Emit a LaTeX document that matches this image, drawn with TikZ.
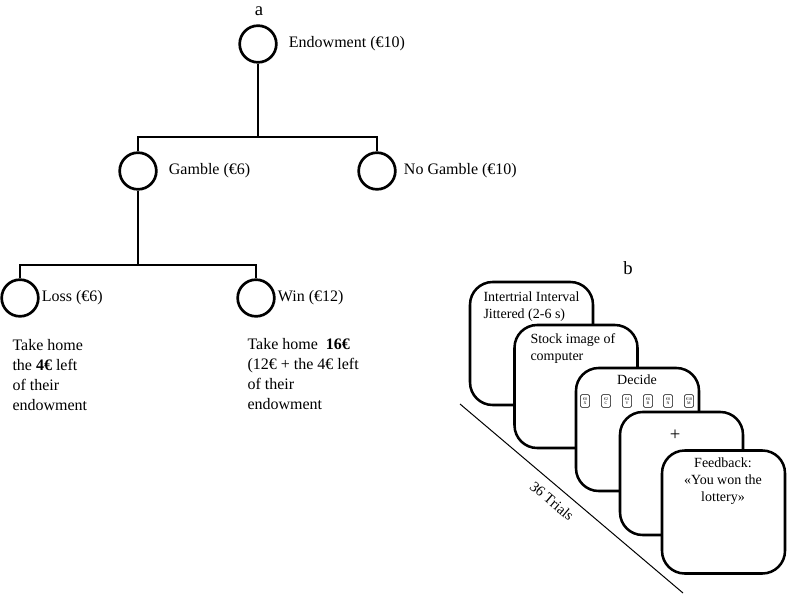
\documentclass[tikz,border=0pt]{standalone}
\usepackage{fontspec}
\setmainfont{Liberation Serif}

\tikzset{every picture/.style={line width=0.75pt}}
\tikzset{
  choice/.style={draw, circle, line width=2pt, minimum size=27.5pt, inner sep=0pt},
  branch/.style={line width=2pt},
  card/.style={draw, fill=white, line width=1.9pt, rounded corners=17pt, minimum width=92.25pt, minimum height=92.25pt},
  key/.style={draw, fill=white, line width=0.4pt, rounded corners=1.2pt, minimum width=7pt, minimum height=9.5pt, inner sep=0.3pt, align=center, font=\fontsize{3}{3.4}\selectfont},
  cardtext/.style={inner sep=0pt, align=left, font=\fontsize{10.5}{12.8}\selectfont}
}

\begin{document}
\begin{tikzpicture}[x=0.75pt,y=0.75pt,yscale=-1,xscale=1]
\path[use as bounding box, fill=white] (0,0) rectangle (787,595);

% Panel a
\draw (259,11) node [inner sep=0pt, font=\fontsize{14}{16}\selectfont] (lbla) {a};
%Shape: Circle
\node [choice] (endow) at (258,44) {};
\node [choice] (gamble) at (138,171) {};
\node [choice] (nogamble) at (377,171) {};
\node [choice] (loss) at (20,298) {};
\node [choice] (win) at (256,298) {};
% Text Node
\draw (284,44) node [anchor=west, font=\fontsize{12}{14}\selectfont] (tendow) {Endowment (€10)};
% Text Node
\draw (164,171) node [anchor=west, font=\fontsize{12}{14}\selectfont] (tgamble) {Gamble (€6)};
% Text Node
\draw (399,171) node [anchor=west, font=\fontsize{12}{14}\selectfont] (tnogamble) {No Gamble (€10)};
% Text Node
\draw (37,298) node [anchor=west, font=\fontsize{12}{14}\selectfont] (tloss) {Loss (€6)};
% Text Node
\draw (273,298) node [anchor=west, font=\fontsize{12}{14}\selectfont] (twin) {Win (€12)};
% Text Node
\draw (12,375.5) node [anchor=west, inner sep=0pt, align=left, font=\fontsize{12}{15}\selectfont] (lossout) {Take home\\the \textbf{4€} left\\of their\\endowment};
% Text Node
\draw (247,374.5) node [anchor=west, inner sep=0pt, align=left, font=\fontsize{12}{15}\selectfont] (winout) {Take home~ \textbf{16€}\\(12€ + the 4€ left\\of their\\endowment};

%Straight Lines
\coordinate (j1) at (258,137);
\coordinate (j2) at (138,265);
\draw [branch] (endow) -- (j1);
\draw [branch] (gamble) |- (j1) -| (nogamble);
\draw [branch] (gamble) -- (j2);
\draw [branch] (loss) |- (j2) -| (win);

% Panel b
\draw (628,268) node [font=\fontsize{14}{16}\selectfont] (lblb) {b};
%Straight Lines
\coordinate (tstart) at (460,404);
\coordinate (tend) at (683,593);
\draw (tstart) -- (tend);
% Text Node
\draw (552,501) node [rotate=-40.3, inner sep=0pt, font=\fontsize{11}{13}\selectfont] (ttrials) {36 Trials};

%Shape: Rounded Rectangle
\node [card] (iti) at (531.5,343.5) {};
% Text Node
\draw (483,306.5) node [cardtext, anchor=west] (titi) {Intertrial Interval\\Jittered (2-6 s)};
%Shape: Rounded Rectangle
\node [card] (stock) at (576,386.5) {};
% Text Node
\draw (530,348.5) node [cardtext, anchor=west] (tstock) {Stock image of\\computer};
%Shape: Rounded Rectangle
\node [card] (decide) at (637.5,429.5) {};
% Text Node
\draw (637,380) node [cardtext] (tdecide) {Decide};
% Keys
\node [key] (k0) at (585,401) {€0\\X};
\node [key] (k1) at (606,401) {€2\\C};
\node [key] (k2) at (627,401) {€4\\V};
\node [key] (k3) at (648,401) {€6\\B};
\node [key] (k4) at (668,401) {€8\\N};
\node [key] (k5) at (689,401) {€10\\M};
%Shape: Rounded Rectangle
\node [card] (fixation) at (681.5,473.5) {};
% Text Node
\draw (675,435) node [cardtext, font=\fontsize{14}{16}\selectfont] (tfix) {+};
%Shape: Rounded Rectangle
\node [card] (feedback) at (723.5,512) {};
% Text Node
\draw (723,481) node [cardtext, align=center] (tfeedback) {Feedback:\\«You won the\\lottery»};

\end{tikzpicture}
\end{document}
